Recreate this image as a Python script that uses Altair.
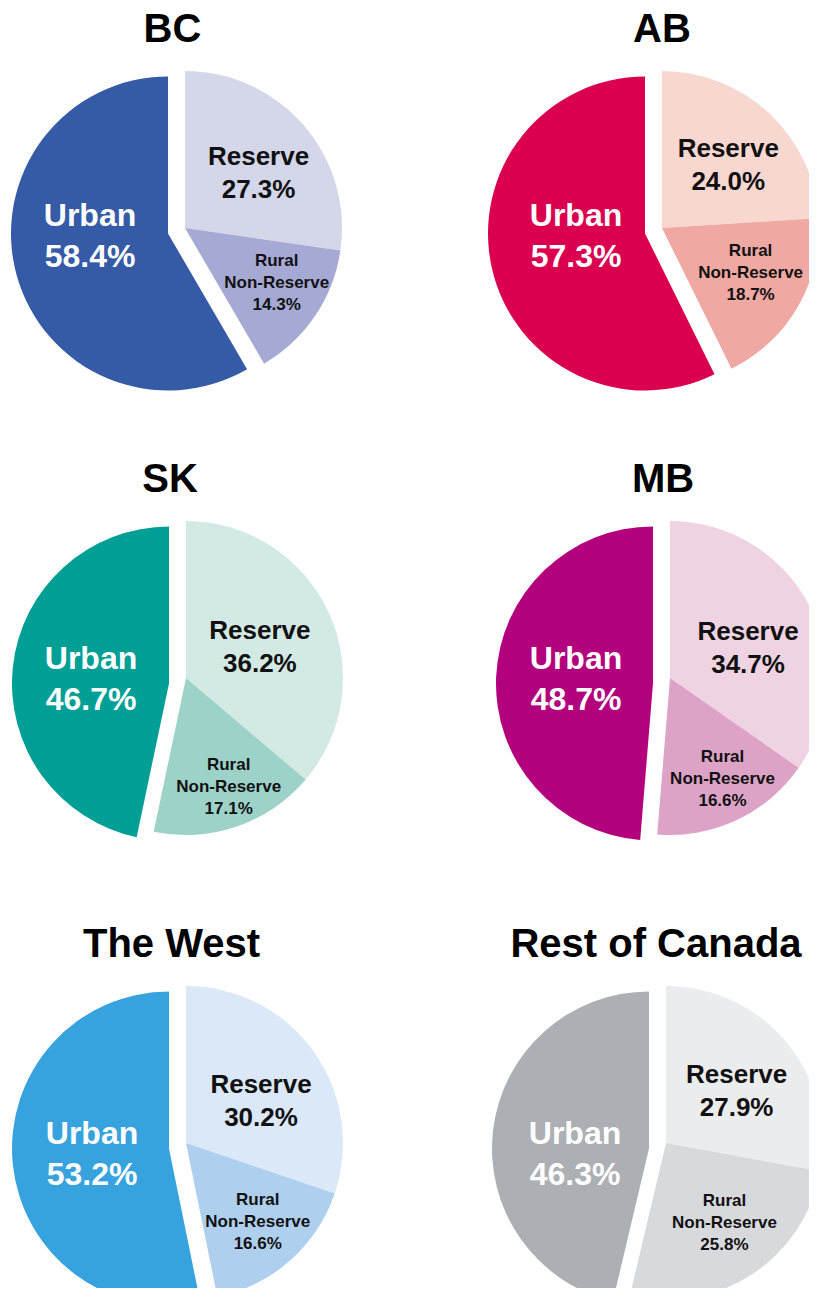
import math
import altair as alt
import pandas as pd

# ---------------- data ----------------
regions = ["BC", "AB", "SK", "MB", "The West", "Rest of Canada"]
categories = ["Reserve", "Rural Non-Reserve", "Urban"]
label_names = ["Reserve", "Rural|Non-Reserve", "Urban"]
reserve = [27.3, 24.0, 36.2, 34.7, 30.2, 27.9]
rural = [14.3, 18.7, 17.1, 16.6, 16.6, 25.8]
urban = [58.4, 57.3, 46.7, 48.7, 53.2, 46.3]

# ---------------- style ----------------
PALETTE = {
    "BC": ["#D4D6EA", "#A6A9D3", "#355BA6"],
    "AB": ["#F9D7D1", "#F0A8A2", "#DA004F"],
    "SK": ["#D3EAE4", "#9DD2C9", "#009F95"],
    "MB": ["#EFD3E3", "#DDA3C6", "#B3007D"],
    "The West": ["#DBE8F7", "#AFCFEE", "#37A3DE"],
    "Rest of Canada": ["#EBECEE", "#D7D9DC", "#ACB0B4"],
}
FONT = "Liberation Sans, Arial, Helvetica, sans-serif"
R = 157
EXPLODE_DX, EXPLODE_DY = -17, 5.5
COL_W = [477, 324]
ROW_H = [450, 465, 365]
PIE_CX = [177, 177, 178, 185, 178, 181]
PIE_CY = 220
TITLE_X = [164.5, 177, 162, 178, 163.5, 171]
TITLE_Y = 34
R_RESERVE = 88
R_RURAL = 107
URBAN_LABEL_DX = -77
# per-panel label nudges (dx, dy) for Urban, Reserve, Rural labels
NUDGE = [
    ((-1, 3), (7, 3), (3, -5)),
    ((8, 3), (6, 1.5), (-4, -8.5)),
    ((-1, -4.5), (-6, 6), (8, 7.5)),
    ((0, -4.5), (0, 11.5), (7, 4)),
    ((0, 6), (3.5, 9.5), (1, -1.5)),
    ((3, 5.5), (3, 5), (0, -9.5)),
]

color_domain = [f"{r}|{c}" for r in regions for c in categories]
color_range = [col for r in regions for col in PALETTE[r]]
color_scale = alt.Scale(domain=color_domain, range=color_range)
theta_scale = alt.Scale(domain=[0, 100], range=[0, 2 * math.pi])


def panel(i, width, height):
    reg = regions[i]
    df = pd.DataFrame({
        "region": [reg] * 3,
        "category": categories,
        "name": label_names,
        "value": [reserve[i], rural[i], urban[i]],
        "order": [0, 1, 2],
    })
    cx, cy = PIE_CX[i], PIE_CY
    ux, uy = cx + EXPLODE_DX, cy + EXPLODE_DY
    nu, nres, nrur = NUDGE[i]
    base = (
        alt.Chart(df)
        .transform_window(cum="sum(value)", sort=[alt.SortField("order")], frame=[None, 0])
        .transform_calculate(
            t0="datum.cum - datum.value",
            key="datum.region + '|' + datum.category",
            mid="(datum.cum - datum.value / 2) / 100 * 2 * PI",
            txt="datum.name + '|' + format(datum.value, '.1f') + '%'",
        )
    )
    enc = dict(
        theta=alt.Theta("t0:Q", scale=theta_scale),
        theta2="cum:Q",
        color=alt.Color("key:N", scale=color_scale, legend=None),
    )
    others = (
        base.transform_filter("datum.category != 'Urban'")
        .mark_arc(radius=R, clip=True)
        .encode(x=alt.value(cx), y=alt.value(cy), **enc)
    )
    urb = (
        base.transform_filter("datum.category == 'Urban'")
        .mark_arc(radius=R, clip=True)
        .encode(x=alt.value(ux), y=alt.value(uy), **enc)
    )
    lab_res = (
        base.transform_filter("datum.category == 'Reserve'")
        .transform_calculate(
            lx=f"{cx} + {R_RESERVE} * sin(datum.mid)",
            ly=f"{cy} - {R_RESERVE} * cos(datum.mid)",
        )
        .mark_text(font=FONT, fontWeight="bold", fontSize=26, lineHeight=33,
                   dx=nres[0], dy=-16.5 + nres[1],
                   lineBreak="|", color="#111111", align="center", baseline="middle")
        .encode(x=alt.X("lx:Q", scale=None), y=alt.Y("ly:Q", scale=None), text="txt:N")
    )
    lab_rur = (
        base.transform_filter("datum.category == 'Rural Non-Reserve'")
        .transform_calculate(
            lx=f"{cx} + {R_RURAL} * sin(datum.mid)",
            ly=f"{cy} - {R_RURAL} * cos(datum.mid)",
        )
        .mark_text(font=FONT, fontWeight="bold", fontSize=17, lineHeight=22,
                   dx=nrur[0], dy=-22 + nrur[1],
                   lineBreak="|", color="#111111", align="center", baseline="middle")
        .encode(x=alt.X("lx:Q", scale=None), y=alt.Y("ly:Q", scale=None), text="txt:N")
    )
    lab_urb = (
        base.transform_filter("datum.category == 'Urban'")
        .mark_text(font=FONT, fontWeight="bold", fontSize=32, lineHeight=41,
                   dx=nu[0], dy=-20.5 + nu[1],
                   lineBreak="|", color="white", align="center", baseline="middle")
        .encode(x=alt.value(ux + URBAN_LABEL_DX), y=alt.value(uy), text="txt:N")
    )
    title = (
        alt.Chart(pd.DataFrame({"title": [reg]}))
        .mark_text(font=FONT, fontWeight="bold", fontSize=40, color="#000000",
                   align="center", baseline="alphabetic")
        .encode(x=alt.value(TITLE_X[i]), y=alt.value(TITLE_Y), text="title:N")
    )
    return alt.layer(others, urb, lab_res, lab_rur, lab_urb, title).properties(
        width=width, height=height
    )


rows = []
for r in range(3):
    rows.append(
        alt.hconcat(
            panel(2 * r, COL_W[0], ROW_H[r]),
            panel(2 * r + 1, COL_W[1], ROW_H[r]),
            spacing=0,
        )
    )

chart = (
    alt.vconcat(*rows, spacing=0)
    .properties(padding=0, background="white")
    .configure_view(stroke=None, fill="white")
    .configure_concat(spacing=0)
)

chart.save("out.html", embed_options={"renderer": "svg", "actions": False})
